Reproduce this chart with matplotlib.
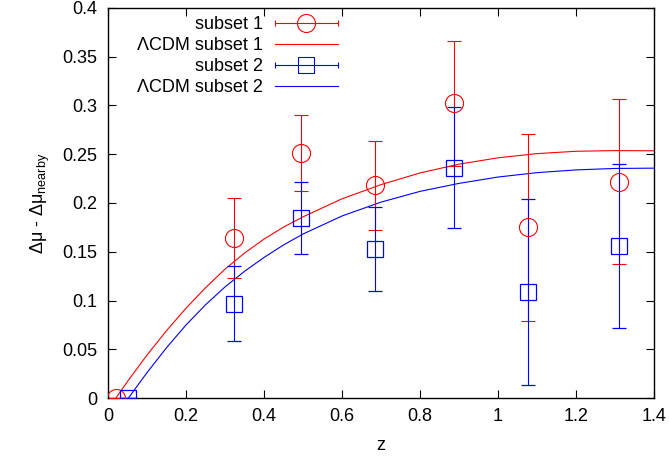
import matplotlib
matplotlib.use("Agg")
import matplotlib.pyplot as plt
from matplotlib.lines import Line2D
from matplotlib.legend_handler import HandlerBase

# data
z1 = [0.020, 0.322, 0.494, 0.685, 0.887, 1.078, 1.311]
dmu1 = [0.0, 0.164, 0.251, 0.218, 0.302, 0.175, 0.222]
err1 = [0.0, 0.041, 0.039, 0.046, 0.064, 0.096, 0.085]

z2 = [0.050, 0.322, 0.494, 0.685, 0.887, 1.078, 1.311]
dmu2 = [0.0, 0.097, 0.185, 0.153, 0.236, 0.109, 0.156]
err2 = [0.0, 0.038, 0.037, 0.043, 0.062, 0.095, 0.084]

# LCDM model curves
zc1 = [0.02, 0.05, 0.1, 0.15, 0.2, 0.25, 0.3, 0.35, 0.4, 0.45, 0.5,
       0.6, 0.7, 0.8, 0.9, 1.0, 1.1, 1.2, 1.3, 1.4]
lcdm1 = [0.0, 0.0172, 0.0442, 0.0692, 0.0922, 0.1132, 0.1322, 0.1487, 0.1630,
         0.1753, 0.1858, 0.2043, 0.2188, 0.2308, 0.2398, 0.2463, 0.2506,
         0.2530, 0.2537, 0.2535]
zc2 = [0.052, 0.1, 0.15, 0.2, 0.25, 0.3, 0.35, 0.4, 0.45, 0.5,
       0.6, 0.7, 0.8, 0.9, 1.0, 1.1, 1.2, 1.3, 1.4]
lcdm2 = [0.0, 0.0262, 0.0517, 0.0750, 0.0957, 0.1140, 0.1300, 0.1442, 0.1570,
         0.1682, 0.1867, 0.2009, 0.2119, 0.2201, 0.2266, 0.2311, 0.2339,
         0.2354, 0.2357]

xticks = [0, 0.2, 0.4, 0.6, 0.8, 1, 1.2, 1.4]
xticklabels = ['0', '0.2', '0.4', '0.6', '0.8', '1', '1.2', '1.4']
yticks = [0, 0.05, 0.1, 0.15, 0.2, 0.25, 0.3, 0.35, 0.4]
yticklabels = ['0', '0.05', '0.1', '0.15', '0.2', '0.25', '0.3', '0.35', '0.4']

plt.rcParams['font.family'] = ['Liberation Sans', 'DejaVu Sans']
plt.rcParams['mathtext.fontset'] = 'custom'
plt.rcParams['mathtext.rm'] = 'Liberation Sans'
plt.rcParams['mathtext.it'] = 'Liberation Sans:italic'

FS = 13


# gnuplot-like legend sample: horizontal bar with caps and the marker in the middle
class GnuErrHandler(HandlerBase):
    def __init__(self, color, marker, ms):
        super().__init__()
        self.color = color
        self.marker = marker
        self.ms = ms

    def create_artists(self, legend, orig_handle, xdescent, ydescent,
                       width, height, fontsize, trans):
        y = 0.5 * height - ydescent
        x0, x1 = -xdescent, width - xdescent
        line = Line2D([x0, x1], [y, y], color=self.color, lw=0.8)
        caps = Line2D([x0, x1], [y, y], ls='none', marker='|', ms=5,
                      mew=0.8, color=self.color)
        mk = Line2D([0.5 * (x0 + x1)], [y], ls='none', marker=self.marker,
                    ms=self.ms, mfc='none', mec=self.color, mew=0.8)
        for a in (line, caps, mk):
            a.set_transform(trans)
        return [line, caps, mk]


fig = plt.figure(figsize=(6.69, 4.62), dpi=100)
ax = fig.add_axes([108 / 669, 1 - 398.2 / 462, 546 / 669, 390.4 / 462])

eb1 = ax.errorbar(z1, dmu1, yerr=err1, fmt='o', color='red', ms=13, mfc='none',
                  mew=0.8, elinewidth=0.8, capsize=5, capthick=0.8, zorder=3)
l1, = ax.plot(zc1, lcdm1, color='red', lw=0.8, zorder=2)
eb2 = ax.errorbar(z2, dmu2, yerr=err2, fmt='s', color='blue', ms=12, mfc='none',
                  mew=0.9, elinewidth=0.8, capsize=5, capthick=0.8, zorder=3)
l2, = ax.plot(zc2, lcdm2, color='blue', lw=0.8, zorder=2)

ax.set_xlim(0, 1.4)
ax.set_ylim(0, 0.4)
ax.set_xticks(xticks)
ax.set_xticklabels(xticklabels)
ax.set_yticks(yticks)
ax.set_yticklabels(yticklabels)
ax.tick_params(direction='in', length=6, width=0.8, top=True, right=True,
               labelsize=FS)
ax.tick_params(axis='x', pad=7)
ax.tick_params(axis='y', pad=8)
for s in ax.spines.values():
    s.set_linewidth(1.0)

ax.set_xlabel('z', fontsize=FS, labelpad=9)
ax.set_ylabel(r'Δμ - Δμ$_{\mathrm{nearby}}$', fontsize=FS, labelpad=7)

leg = ax.legend([eb1, l1, eb2, l2],
                ['subset 1', 'ΛCDM subset 1', 'subset 2', 'ΛCDM subset 2'],
                handler_map={eb1: GnuErrHandler('red', 'o', 13),
                             eb2: GnuErrHandler('blue', 's', 12)},
                markerfirst=False, frameon=False, loc='upper right',
                bbox_to_anchor=(338 / 669, 1 - 16 / 462),
                bbox_transform=fig.transFigure, borderpad=0, borderaxespad=0,
                handlelength=3.5, handletextpad=0.65, labelspacing=0.22,
                fontsize=FS)

plt.savefig('out.png', dpi=100)
